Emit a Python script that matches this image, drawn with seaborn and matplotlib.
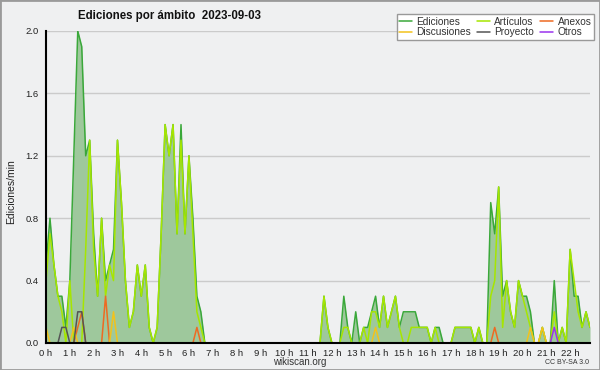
import numpy as np
import pandas as pd
import matplotlib
matplotlib.use("Agg")
import matplotlib.pyplot as plt
import seaborn as sns
from matplotlib.ticker import MultipleLocator, FixedLocator
from matplotlib.lines import Line2D
from matplotlib.patches import Rectangle

# ---- data: edits per minute, 10-minute bins from 00:00 to 22:50 ----
Z6 = [0.0] * 6
ediciones = (
    [0.5, 0.8, 0.5, 0.3, 0.3, 0.1] +   # 0 h
    [0.4, 1.2, 2.0, 1.9, 1.2, 1.3] +   # 1 h
    [0.7, 0.3, 0.8, 0.4, 0.5, 0.6] +   # 2 h
    [1.3, 0.9, 0.4, 0.1, 0.2, 0.5] +   # 3 h
    [0.3, 0.5, 0.1, 0.0, 0.1, 0.7] +   # 4 h
    [1.4, 1.2, 1.4, 0.7, 1.4, 0.7] +   # 5 h
    [1.2, 0.8, 0.3, 0.2, 0.0, 0.0] +   # 6 h
    Z6 * 4 +                           # 7-10 h
    [0.0, 0.0, 0.0, 0.0, 0.3, 0.1] +   # 11 h
    [0.0, 0.0, 0.0, 0.3, 0.1, 0.0] +   # 12 h
    [0.2, 0.0, 0.1, 0.1, 0.2, 0.3] +   # 13 h
    [0.1, 0.3, 0.1, 0.2, 0.3, 0.1] +   # 14 h
    [0.2, 0.2, 0.2, 0.2, 0.1, 0.1] +   # 15 h
    [0.1, 0.0, 0.1, 0.1, 0.0, 0.0] +   # 16 h
    [0.0, 0.1, 0.1, 0.1, 0.1, 0.1] +   # 17 h
    [0.0, 0.1, 0.0, 0.0, 0.9, 0.7] +   # 18 h
    [1.0, 0.3, 0.4, 0.2, 0.1, 0.4] +   # 19 h
    [0.3, 0.3, 0.2, 0.0, 0.0, 0.1] +   # 20 h
    [0.0, 0.0, 0.4, 0.0, 0.1, 0.0] +   # 21 h
    [0.6, 0.3, 0.3, 0.1, 0.2, 0.1]     # 22 h
)
articulos = (
    [0.4, 0.7, 0.5, 0.3, 0.2, 0.0] +
    [0.4, 0.0, 0.0, 0.0, 0.6, 1.3] +
    [0.6, 0.3, 0.8, 0.3, 0.5, 0.4] +
    [1.3, 0.9, 0.4, 0.1, 0.2, 0.5] +
    [0.3, 0.5, 0.1, 0.0, 0.1, 0.7] +
    [1.4, 1.2, 1.4, 0.7, 1.3, 0.7] +
    [1.2, 0.7, 0.2, 0.1, 0.0, 0.0] +
    Z6 * 4 +
    [0.0, 0.0, 0.0, 0.0, 0.3, 0.1] +
    [0.0, 0.0, 0.0, 0.1, 0.1, 0.0] +
    [0.0, 0.0, 0.1, 0.0, 0.2, 0.2] +
    [0.1, 0.3, 0.1, 0.2, 0.3, 0.1] +
    [0.0, 0.0, 0.1, 0.1, 0.1, 0.1] +
    [0.1, 0.0, 0.1, 0.0, 0.0, 0.0] +
    [0.0, 0.1, 0.1, 0.1, 0.1, 0.1] +
    [0.0, 0.1, 0.0, 0.0, 0.3, 0.4] +
    [1.0, 0.1, 0.4, 0.2, 0.1, 0.4] +
    [0.3, 0.2, 0.1, 0.0, 0.0, 0.1] +
    [0.0, 0.0, 0.2, 0.0, 0.1, 0.0] +
    [0.6, 0.4, 0.2, 0.1, 0.2, 0.1]
)
anexos = (
    Z6 +
    [0.0, 0.0, 0.1, 0.2, 0.0, 0.0] +
    [0.0, 0.0, 0.0, 0.3, 0.0, 0.0] +
    Z6 * 3 +
    [0.0, 0.0, 0.1, 0.0, 0.0, 0.0] +
    Z6 * 11 +
    [0.0, 0.0, 0.0, 0.0, 0.0, 0.1] +
    Z6 * 4
)
discusiones = (
    [0.1, 0.0, 0.0, 0.0, 0.0, 0.0] +
    [0.0, 0.1, 0.0, 0.0, 0.0, 0.0] +
    [0.0, 0.0, 0.0, 0.0, 0.0, 0.2] +
    Z6 * 10 +
    [0.0, 0.0, 0.0, 0.0, 0.0, 0.1] +
    Z6 * 6 +
    [0.0, 0.0, 0.1, 0.0, 0.0, 0.1] +
    Z6 * 2
)
proyecto = (
    [0.0, 0.0, 0.0, 0.0, 0.1, 0.1] +
    [0.0, 0.0, 0.2, 0.2, 0.0, 0.0] +
    Z6 * 21
)
otros = (
    Z6 * 21 +
    [0.0, 0.0, 0.1, 0.0, 0.0, 0.0] +
    Z6
)

series_names = ["Ediciones", "Artículos", "Anexos", "Discusiones", "Proyecto", "Otros"]
series_colors = ["#3aa83a", "#a6e600", "#ee6a22", "#f2c21c", "#555555", "#9a33ee"]
series_values = [ediciones, articulos, anexos, discusiones, proyecto, otros]

minutes = np.arange(len(ediciones)) * 10
hours = minutes / 60.0

rows = []
for name, vals in zip(series_names, series_values):
    for h, v in zip(hours, vals):
        rows.append({"hora": h, "valor": v, "serie": name})
df = pd.DataFrame(rows)

# ---- style ----
sns.set_theme(style="white")
FONT = ["Liberation Sans", "DejaVu Sans"]
plt.rcParams["font.family"] = FONT

BG = "#eff0f1"
fig = plt.figure(figsize=(6, 3.7), dpi=100, facecolor=BG)
ax = fig.add_axes([46 / 600, 1 - 343 / 370, (590 - 46) / 600, (343 - 31) / 370])
ax.set_facecolor(BG)

# grid
for g in [0.4, 0.8, 1.2, 1.6, 2.0]:
    ax.axhline(g, color="#cbcbcb", lw=1.0, zorder=0.5)

# filled Ediciones
ed = df[df.serie == "Ediciones"]
ax.fill_between(ed.hora, ed.valor, 0, color="#9ec89c", lw=0, zorder=1)

for name, col in zip(series_names, series_colors):
    sub = df[df.serie == name]
    sns.lineplot(data=sub, x="hora", y="valor", ax=ax, color=col, lw=1.1,
                 zorder=3 if name != "Ediciones" else 2, legend=False)

ax.set_xlim(0, hours[-1])
ax.set_ylim(0, 2.0)
ax.set_xlabel("")
ax.set_ylabel("")

ax.xaxis.set_major_locator(FixedLocator(list(range(0, 23))))
ax.set_xticklabels([f"{h} h" for h in range(0, 23)])
ax.xaxis.set_minor_locator(MultipleLocator(1 / 6))
ax.yaxis.set_major_locator(MultipleLocator(0.4))
ax.yaxis.set_minor_locator(MultipleLocator(0.1))
ax.set_yticklabels([f"{v:.1f}" for v in ax.get_yticks()])

ax.tick_params(axis="both", which="both", direction="out", color="black",
               labelsize=6.8, pad=0.5, width=1)
ax.tick_params(axis="x", which="major", length=4)
ax.tick_params(axis="x", which="minor", length=4)
ax.tick_params(axis="y", which="major", length=5)
ax.tick_params(axis="y", which="minor", length=3)
for lab in ax.get_xticklabels() + ax.get_yticklabels():
    lab.set_color("#222222")

for s in ["top", "right"]:
    ax.spines[s].set_visible(False)
for s in ["left", "bottom"]:
    ax.spines[s].set_visible(True)
    ax.spines[s].set_color("black")
    ax.spines[s].set_linewidth(1.5)
    ax.spines[s].set_zorder(10)

# legend
handles = [Line2D([0], [0], color=c, lw=1.1) for c in series_colors]
order = [0, 3, 1, 4, 2, 5]
leg = fig.legend([handles[i] for i in order], [series_names[i] for i in order],
                 loc="upper right", bbox_to_anchor=(599 / 600, 1 - 9 / 370),
                 ncol=3, fontsize=7.3, frameon=True, fancybox=False,
                 edgecolor="#999999", facecolor="white", framealpha=1,
                 handlelength=1.3, handletextpad=0.4, columnspacing=0.6,
                 labelspacing=0.05, borderpad=0.25)
leg.get_frame().set_linewidth(1.0)
for t in leg.get_texts():
    t.set_color("#333333")

# texts
fig.text(170 / 600, 1 - 16 / 370, "Ediciones por ámbito  2023-09-03",
         ha="center", va="center", fontsize=8.3, fontweight="bold", color="#111111")
fig.text(11 / 600, 1 - 192 / 370, "Ediciones/min", rotation=90,
         ha="center", va="center", fontsize=7.5, color="#222222")
fig.text(300 / 600, 1 - 362 / 370, "wikiscan.org", ha="center", va="center",
         fontsize=7, color="#333333")
fig.text(589 / 600, 1 - 363 / 370, "CC BY-SA 3.0", ha="right", va="center",
         fontsize=5, color="#333333")

fig.patches.append(Rectangle((0, 0), 1, 1, transform=fig.transFigure,
                             fill=False, edgecolor="#9a9a9a", lw=2))

fig.savefig("out.png", dpi=100, facecolor=BG)
